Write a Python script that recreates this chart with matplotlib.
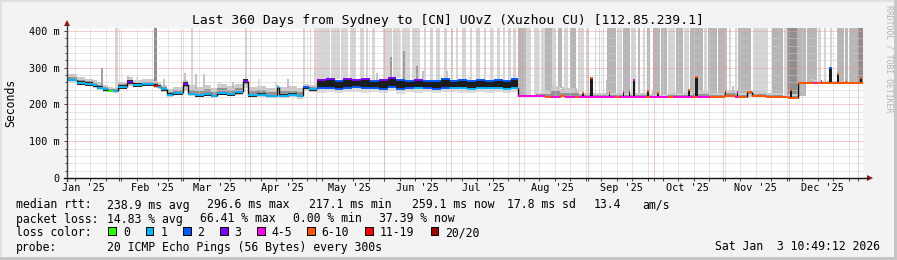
import numpy as np
import matplotlib
matplotlib.use("Agg")
import matplotlib.pyplot as plt
import matplotlib.dates as mdates
from matplotlib.patches import Rectangle, Polygon
from matplotlib.lines import Line2D
from datetime import datetime, timedelta

plt.rcParams["font.family"] = ["DejaVu Sans Mono"]

W, H = 897, 260

title = "Last 360 Days from Sydney to [CN] UOvZ (Xuzhou CU) [112.85.239.1]"
t_start = datetime(2025, 1, 8, 10, 49, 12)
t_end = datetime(2026, 1, 3, 10, 49, 12)
stamp = "Sat Jan  3 10:49:12 2026"

loss_labels = ["0", "1", "2", "3", "4-5", "6-10", "11-19", "20/20"]
loss_colors = ["#26ff00", "#00b8ff", "#0059ff", "#7e00ff", "#ff00ea", "#ff5500", "#ff0000", "#a10000"]

rtt_stats = ["238.9 ms avg", "296.6 ms max", "217.1 ms min", "259.1 ms now", "17.8 ms sd", "13.4", "am/s"]
loss_stats = ["14.83 % avg", "66.41 % max", "0.00 % min", "37.39 % now"]
probe = "20 ICMP Echo Pings (56 Bytes) every 300s"

nan = float("nan")

# median rtt steps (day = days since t_start), ms; loss class index; smoke range; jitter
seg_day = [0.0, 4.5, 8.0, 11.8, 13.6, 16.3, 18.5, 20.8, 23.1, 27.1, 29.9, 34.0, 39.3, 41.1, 42.6,
           45.2, 47.9, 52.5, 54.7, 58.0, 62.0, 65.0, 67.8, 72.4, 76.0, 79.6, 81.9, 86.0, 90.0,
           95.0, 95.9, 100.0, 104.0, 106.7, 109.5, 113.1,
           204.0, 212.0, 216.2, 219.0, 223.0, 225.0, 229.8, 231.5, 240.2, 248.0, 249.5, 262.0,
           263.5, 272.0, 274.0, 280.0, 283.0, 285.0, 290.8, 297.0, 302.0, 303.5, 307.6, 309.8,
           316.0, 323.8, 326.0, 330.6, 336.0, 338.0, 339.0, 350.0]
seg_med = [267, 258, 255, 252, 246, 241, 237, 236, 248, 261, 253, 255, 251, 248, 241,
           227, 231, 256, 228, 225, 228, 224, 231, 228, 233, 264, 225, 227, 223,
           247, 224, 226, 222, 247, 241, nan,
           224, 223, 221, 221, 222, 221, 220, 220, 219, 220, 219, 219,
           219, 219, 219, 220, 221, 219, 221, 222, 221, 221, 235, 222,
           221, 219, 218, 258, 259, 258, 259, 258]
seg_loss = [1, 1, 1, 1, 1, 1, 0, 1, 1, 3, 1, 1, 6, 1, 1,
            1, 1, 3, 1, 1, 1, 1, 1, 1, 1, 3, 1, 1, 1,
            1, 1, 1, 1, 2, 1, 0,
            4, 4, 5, 4, 5, 4, 5, 4, 4, 5, 4, 5,
            4, 5, 4, 4, 5, 4, 5, 5, 4, 5, 5, 5,
            5, 5, 5, 5, 5, 4, 5, 5]
seg_lo = [261, 252, 249, 246, 240, 235, 233, 232, 242, 250, 247, 249, 245, 242, 235,
          221, 225, 238, 222, 219, 222, 218, 225, 222, 226, 245, 219, 221, 217,
          230, 218, 220, 216, 240, 235, nan,
          222, 221, 219, 219, 219, 219, 218, 218, 217, 217, 217, 217,
          217, 217, 217, 218, 218, 217, 219, 219, 219, 219, 221, 220,
          219, 217, 216, 256, 256, 256, 256, 256]
seg_hi = [284, 274, 270, 266, 260, 254, 247, 246, 262, 274, 266, 268, 264, 260, 254,
          243, 248, 266, 252, 248, 254, 244, 256, 250, 255, 270, 248, 250, 246,
          254, 248, 250, 246, 256, 253, nan,
          226, 232, 236, 250, 242, 244, 240, 232, 230, 232, 230, 234,
          228, 232, 232, 234, 240, 238, 230, 240, 236, 232, 240, 236,
          230, 224, 228, 262, 268, 266, 264, 262]
seg_jit = [3, 6, 5, 4, 4, 3, 2, 2, 5, 5, 5, 4, 4, 4, 4,
           3, 4, 6, 3, 4, 4, 3, 4, 4, 5, 6, 4, 4, 3,
           3, 4, 4, 3, 4, 4, 0,
           0, 0, 0, 0, 0, 0, 0, 0, 0, 0, 0, 0,
           0, 0, 0, 0, 0, 0, 0, 0, 0, 0, 0, 0,
           0, 0, 0, 0, 0, 0, 0, 0]

# May - July: median swings fast between two levels (dark band)
band_day = [113.1, 117, 121, 125, 129, 133, 137, 141, 145, 149, 153, 157, 161, 165, 169, 173,
            177, 181, 185, 189, 193, 197, 201]
band_lo = [244, 246, 243, 245, 247, 244, 246, 243, 247, 242, 245, 244, 246, 243, 245, 246,
           244, 243, 245, 244, 246, 243, 245]
band_hi = [266, 268, 265, 268, 266, 268, 265, 267, 272, 266, 264, 267, 263, 265, 270, 264,
           266, 265, 266, 264, 266, 265, 268]
band_floor = [232, 234, 230, 233, 235, 231, 234, 230, 236, 229, 233, 232, 234, 231, 233, 234,
              232, 230, 233, 232, 234, 231, 233]
band_top = [3, 3, 2, 3, 3, 3, 2, 3, 3, 2, 2, 3, 2, 2, 2, 2, 2, 2, 2, 2, 2, 2, 2]
band_bot = [2, 2, 2, 2, 2, 2, 2, 2, 2, 2, 2, 1, 2, 2, 2, 1, 1, 1, 1, 1, 1, 1, 1]

# short median excursions (day, width in days, top ms, loss class)
peak_day = [236.5, 256.0, 284.0, 344.6, 348.3, 358.7, 233.0, 245.0, 251.5, 254.0, 262.5,
            267.0, 281.0, 297.5, 303.0, 327.0, 341.0, 352.0]
peak_w = [1.6, 1.0, 1.6, 1.2, 1.0, 1.0, 0.6, 0.6, 0.6, 0.6, 0.6, 0.6, 0.8, 0.6, 0.6, 0.8, 0.6, 0.6]
peak_top = [272, 266, 276, 300, 282, 272, 232, 230, 234, 236, 236, 232, 240, 238, 233, 240, 264, 262]
peak_loss = [5, 4, 5, 2, 5, 5, 5, 5, 4, 5, 5, 5, 5, 5, 4, 5, 4, 5]

# thin smoke spikes (day, top ms, shade level)
spike_day = [15.7, 27.5, 31.5, 44.0, 53.4, 58.5, 62.0, 69.0, 75.0, 87.0, 94.5, 100.0, 118.0,
             134.0, 140.0, 146.5, 152.5, 158.5, 161.0, 172.0, 182.0, 219.0, 224.5, 230.0,
             244.0, 252.0, 265.0, 283.0, 285.0, 297.0, 301.0, 337.0, 341.5, 352.5, 359.0]
spike_top = [300, 277, 274, 270, 286, 284, 284, 260, 262, 268, 260, 268, 275,
             282, 285, 330, 345, 306, 290, 290, 276, 250, 248, 244,
             266, 244, 240, 262, 278, 242, 250, 266, 258, 276, 282]
spike_lvl = [3, 2, 1, 2, 2, 2, 2, 1, 2, 1, 1, 2, 2,
             1, 2, 3, 3, 3, 2, 2, 1, 2, 2, 2,
             2, 2, 2, 2, 3, 2, 2, 2, 1, 2, 3]

# periods where part of the pings ran off the top of the graph (start day, length, shade level)
tall_day = [21.7, 39.3, 56.1, 80.5, 106.7, 109.9, 111.7,
            113.1, 119.4, 123.9, 128.0, 132.5, 135.2, 137.9, 142.9, 147.4, 151.5, 156.0, 161.5,
            164.2, 166.9, 170.5, 173.7, 175.9, 178.7, 182.3, 185.0, 188.6, 191.3, 194.5, 197.2,
            199.5, 201.7,
            204.0, 207.7, 211.0, 214.4, 216.2, 219.4, 222.1, 224.8, 227.5, 231.1, 234.7, 238.8,
            240.6, 242.4, 244.2, 248.8, 251.5, 255.1, 258.2, 260.5, 262.3, 265.1, 268.5, 271.8,
            275.4, 279.1, 281.8, 288.1, 289.9, 294.3, 299.4, 302.1, 303.4, 310.3, 318.9, 324.3,
            325.6, 330.2, 334.6, 339.7, 342.4, 345.2, 348.3, 351.8, 353.7, 357.8]
tall_len = [1.4, 1.4, 0.9, 0.9, 0.9, 0.5, 0.9,
            5.9, 4.1, 3.2, 2.7, 1.8, 0.9, 1.4, 4.1, 3.2, 3.6, 3.6, 0.9,
            1.4, 1.8, 1.4, 0.9, 0.9, 1.8, 0.9, 1.8, 0.9, 1.4, 1.4, 0.9,
            1.4, 1.4,
            3.7, 2.3, 2.5, 1.8, 3.2, 1.8, 1.8, 1.8, 2.7, 2.7, 1.4, 0.5,
            0.5, 0.5, 4.1, 2.3, 3.2, 2.3, 0.9, 0.9, 1.4, 3.0, 3.0, 3.2,
            3.2, 2.3, 5.9, 1.4, 4.0, 4.1, 0.9, 0.9, 5.9, 6.8, 5.0, 1.4,
            4.5, 4.0, 4.4, 1.4, 0.9, 0.9, 3.0, 1.6, 4.1, 2.3]
tall_lvl = [1, 3, 1, 1, 1, 1, 1,
            1, 1, 1, 1, 1, 1, 1, 1, 1, 1, 1, 1,
            1, 1, 1, 1, 1, 1, 1, 1, 1, 1, 1, 1,
            1, 1,
            2, 1, 1, 1, 2, 1, 2, 1, 2, 1, 1, 1,
            1, 1, 2, 1, 2, 1, 2, 1, 2, 2, 2, 1,
            2, 1, 2, 1, 2, 2, 1, 1, 2, 1, 2, 1,
            3, 2, 2, 1, 1, 1, 2, 2, 2, 3]

shade = {1: "#d6d6d6", 2: "#b6b6b6", 3: "#8e8e8e"}


def fx(x):
    return x / W


def fy(y):
    return 1 - y / H


x0 = mdates.date2num(t_start)


def X(d):
    return x0 + np.asarray(d, dtype=float)


fig = plt.figure(figsize=(W / 100, H / 100), dpi=100, facecolor="#f3f3f3")
ax = fig.add_axes([fx(67), fy(178), 796 / W, 150 / H])
ax.set_facecolor("white")
ax.set_xlim(x0, mdates.date2num(t_end))
ax.set_ylim(0, 408)
for s in ax.spines.values():
    s.set_visible(False)

seg_end = seg_day[1:] + [360.0]
band_end = band_day[1:] + [min(d for d in seg_day if d > band_day[-1])]


def floor_at(d):
    i = np.searchsorted(seg_day, d, side="right") - 1
    if np.isnan(seg_med[i]):
        j = np.searchsorted(band_day, d, side="right") - 1
        return band_hi[j]
    return max(seg_med[i], seg_hi[i] - 6)


# off-scale smoke
for d, n, lv in zip(tall_day, tall_len, tall_lvl):
    b = floor_at(d)
    ax.bar(X(d), 430 - b, width=n, bottom=b, align="edge", color=shade[lv], lw=0, zorder=1)

# smoke around the median
for d0, d1, m, lo, hi in zip(seg_day, seg_end, seg_med, seg_lo, seg_hi):
    if np.isnan(m):
        continue
    ax.bar(X(d0), hi - lo, width=d1 - d0, bottom=lo, align="edge", color="#cbcbcb", lw=0, zorder=2)
    a, b = (lo + m) / 2, (m + hi) / 2
    ax.bar(X(d0), b - a, width=d1 - d0, bottom=a, align="edge", color="#939393", lw=0, zorder=2.5)

for d, top, lv in zip(spike_day, spike_top, spike_lvl):
    b = floor_at(d)
    ax.vlines(X(d), b, top, color=shade[lv], lw=1.2, zorder=2.6)

# grid
sundays = []
s = datetime(2025, 1, 12)
while s < t_end:
    sundays.append(mdates.date2num(s))
    s += timedelta(days=7)
months = [mdates.date2num(datetime(2025, m, 1)) for m in range(2, 13)] + [mdates.date2num(datetime(2026, 1, 1))]
for v in sundays:
    ax.axvline(v, color="#cccccc", lw=0.72, dashes=(1, 1), zorder=4)
for v in range(20, 408, 20):
    if v % 100:
        ax.axhline(v, color="#cccccc", lw=0.72, dashes=(1, 1), zorder=4)
for v in months:
    ax.axvline(v, color="#f29a9a", lw=0.72, dashes=(1, 1), zorder=4.1)
for v in range(100, 408, 100):
    ax.axhline(v, color="#f29a9a", lw=0.72, dashes=(1, 1), zorder=4.1)

# fast-swinging median
for d0, d1, lo, hi, fl, tc, bc in zip(band_day, band_end, band_lo, band_hi, band_floor, band_top, band_bot):
    ax.bar(X(d0), lo - fl, width=d1 - d0, bottom=fl, align="edge", color="#dedede", lw=0, zorder=3)
    ax.bar(X(d0), hi - lo, width=d1 - d0, bottom=lo, align="edge", color="#1c1c1c", lw=0, zorder=5)
    ax.hlines(hi, X(d0), X(d1), color=loss_colors[tc], lw=1.4, zorder=7)
    ax.hlines(lo, X(d0), X(d1), color=loss_colors[bc], lw=1.4, zorder=7)

# jitter and median line
for d0, d1, m, jt in zip(seg_day, seg_end, seg_med, seg_jit):
    if np.isnan(m) or jt == 0:
        continue
    ax.bar(X(d0), 2 * jt, width=d1 - d0, bottom=m - jt, align="edge", color="#2a2a2a", lw=0, zorder=5)

for i in range(len(seg_day)):
    m = seg_med[i]
    if np.isnan(m):
        continue
    ax.hlines(m, X(seg_day[i]), X(seg_end[i]), color=loss_colors[seg_loss[i]], lw=1.4, zorder=7)
    if i + 1 < len(seg_day):
        nxt = seg_med[i + 1] if not np.isnan(seg_med[i + 1]) else band_lo[0]
        ax.vlines(X(seg_end[i]), min(m, nxt), max(m, nxt), color="#111111", lw=1.0, zorder=6.5)
    if i > 0 and np.isnan(seg_med[i - 1]):
        ax.vlines(X(seg_day[i]), m, band_lo[-1], color="#111111", lw=1.0, zorder=6.5)

for d, w, top, lc in zip(peak_day, peak_w, peak_top, peak_loss):
    b = seg_med[np.searchsorted(seg_day, d, side="right") - 1]
    ax.bar(X(d), top - b, width=w, bottom=b, align="edge", color="#1c1c1c", lw=0, zorder=6)
    ax.hlines(top, X(d), X(d + w), color=loss_colors[lc], lw=1.4, zorder=7)

# ticks and labels
label_days = [mdates.date2num(datetime(2025, m, 16)) for m in range(1, 13)]
ax.set_xticks(label_days)
ax.set_xticklabels([datetime(2025, m, 1).strftime("%b '%y") for m in range(1, 13)], fontsize=7.3)
ax.set_xticks(sundays + months, minor=True)
ax.tick_params(axis="x", which="major", length=0, pad=3.6)
ax.tick_params(axis="x", which="minor", length=2.0, width=0.72, color="#444444")
ax.set_yticks([0, 100, 200, 300, 400])
ax.set_yticklabels(["0", "100 m", "200 m", "300 m", "400 m"], fontsize=7.3)
ax.set_yticks(list(range(20, 408, 20)), minor=True)
ax.tick_params(axis="y", which="major", length=2.2, width=0.72, pad=3.0, color="#444444")
ax.tick_params(axis="y", which="minor", length=1.4, width=0.72, color="#444444")

# axes with arrows
fig.add_artist(Line2D([fx(67), fx(67)], [fy(181), fy(25)], color="#404040", lw=1.0))
fig.add_artist(Line2D([fx(64), fx(868)], [fy(178), fy(178)], color="#111111", lw=1.0))
fig.add_artist(Polygon([[fx(64), fy(26)], [fx(70), fy(26)], [fx(67), fy(20)]], closed=True,
                       color="#8b1a1a", lw=0))
fig.add_artist(Polygon([[fx(867), fy(175)], [fx(867), fy(181)], [fx(873), fy(178)]], closed=True,
                       color="#8b1a1a", lw=0))

# frame
fig.add_artist(Rectangle((0, 0), fx(1.5), 1, color="#e2e2e2", lw=0))
fig.add_artist(Rectangle((0, fy(1.5)), 1, 1.5 / H, color="#e2e2e2", lw=0))
fig.add_artist(Rectangle((fx(894), 0), 3 / W, 1, color="#c6c6c6", lw=0))
fig.add_artist(Rectangle((0, 0), 1, 3 / H, color="#c6c6c6", lw=0))

fig.text(fx(448), fy(24), title, fontsize=9.4, ha="center", va="baseline")
fig.text(fx(11), fy(103), "Seconds", fontsize=8.3, rotation=90, ha="center", va="center")
fig.text(fx(888.5), fy(5), "RRDTOOL / TOBI OETIKER", fontsize=5.9, rotation=270,
         ha="center", va="top", color="#b4b4b4")

fs = 8.3
fig.text(fx(16), fy(208.5), "median rtt:", fontsize=fs, va="baseline")
for x, t in zip([107.3, 207.3, 308.7, 412, 507.3, 593.3, 642.7], rtt_stats):
    fig.text(fx(x), fy(208.5), t, fontsize=fs, va="baseline")
fig.text(fx(16), fy(222.5), "packet loss:", fontsize=fs, va="baseline")
for x, t in zip([107.3, 200, 292.7, 379.3], loss_stats):
    fig.text(fx(x), fy(222.5), t, fontsize=fs, va="baseline")
fig.text(fx(16), fy(236.5), "loss color:", fontsize=fs, va="baseline")
box_x = [108.3, 145.7, 183, 220, 257, 307, 365.3, 430.7]
for bx, lab, col in zip(box_x, loss_labels, loss_colors):
    fig.add_artist(Rectangle((fx(bx), fy(235)), 7.5 / W, 8 / H, facecolor=col,
                             edgecolor="black", lw=0.72))
    fig.text(fx(bx + 14.5), fy(236.5), lab, fontsize=fs, va="baseline")
fig.text(fx(16), fy(250.5), "probe:", fontsize=fs, va="baseline")
fig.text(fx(107.3), fy(250.5), probe, fontsize=fs, va="baseline")
fig.text(fx(880), fy(250.5), stamp, fontsize=fs, va="baseline", ha="right")

fig.savefig("out.png", dpi=100, facecolor=fig.get_facecolor())
